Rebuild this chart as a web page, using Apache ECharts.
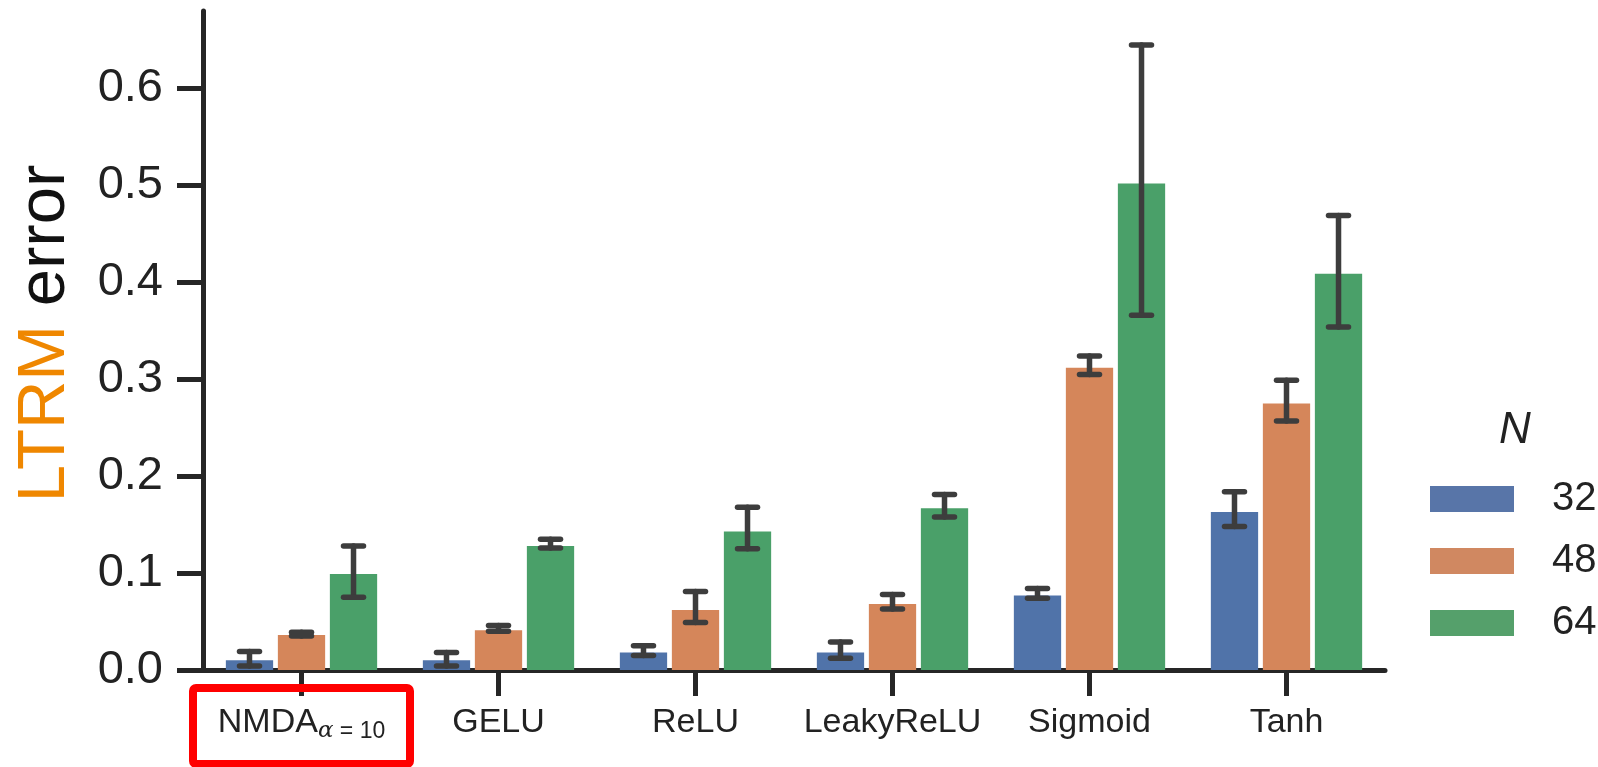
<!DOCTYPE html>
<html>
<head>
<meta charset="utf-8">
<script src="https://cdn.jsdelivr.net/npm/echarts@6/dist/echarts.min.js"></script>
<style>
html,body{margin:0;padding:0;background:#fff;}
#errorChart{width:1598px;height:767px;}
</style>
</head>
<body>
<div id="errorChart"></div>
<script>
// data
var categories = ['NMDA', 'GELU', 'ReLU', 'LeakyReLU', 'Sigmoid', 'Tanh'];
var groupNames = ['32', '48', '64'];
var mean32 = [0.010, 0.010, 0.018, 0.018, 0.077, 0.163];
var low32  = [0.004, 0.004, 0.015, 0.012, 0.074, 0.148];
var high32 = [0.019, 0.018, 0.025, 0.029, 0.084, 0.184];
var mean48 = [0.036, 0.041, 0.062, 0.068, 0.312, 0.275];
var low48  = [0.035, 0.040, 0.049, 0.063, 0.305, 0.257];
var high48 = [0.039, 0.046, 0.081, 0.078, 0.324, 0.299];
var mean64 = [0.099, 0.128, 0.143, 0.167, 0.502, 0.409];
var low64  = [0.075, 0.126, 0.125, 0.158, 0.366, 0.354];
var high64 = [0.128, 0.135, 0.168, 0.181, 0.645, 0.469];
var yTicks = [0, 0.1, 0.2, 0.3, 0.4, 0.5, 0.6];

var barColors = ['#5073a9', '#d5865a', '#4aa069'];
var legendColors = ['#5875a8', '#d08861', '#55a06b'];
var axisColor = '#262626';
var fontName = "'Liberation Sans', Arial, sans-serif";

function errData(lo, hi){
	var out = [];
	for (var i = 0; i < lo.length; i++) {
		out.push([i, lo[i], hi[i]]);
	}
	return out;
}

// error bar with caps, shifted to the bar of the given group
function errRender(groupIdx){
	return function(params, api){
		var c = api.value(0);
		var p1 = api.coord([c, api.value(1)]);
		var p2 = api.coord([c, api.value(2)]);
		var band = api.size([1, 0])[0];
		var x = p1[0] + (groupIdx - 1) * band * 0.24 * 1.1;
		var hw = 10;
		var st = { stroke: '#3d3d3d', lineWidth: 5.5, lineCap: 'round' };
		return {
			type: 'group',
			children: [
				{ type: 'line', shape: { x1: x, y1: p1[1], x2: x, y2: p2[1] }, style: st },
				{ type: 'line', shape: { x1: x - hw, y1: p1[1], x2: x + hw, y2: p1[1] }, style: st },
				{ type: 'line', shape: { x1: x - hw, y1: p2[1], x2: x + hw, y2: p2[1] }, style: st }
			]
		};
	};
}

var errorChart = echarts.init(document.getElementById('errorChart'));
var means = [mean32, mean48, mean64];
var lows = [low32, low48, low64];
var highs = [high32, high48, high64];

var series = [];
for (var g = 0; g < 3; g++) {
	series.push({
		name: groupNames[g],
		type: 'bar',
		barWidth: '24%',
		barGap: '10%',
		itemStyle: { color: barColors[g] },
		data: means[g]
	});
}
for (var g = 0; g < 3; g++) {
	series.push({
		name: 'err' + groupNames[g],
		type: 'custom',
		renderItem: errRender(g),
		encode: { x: 0, y: [1, 2] },
		z: 10,
		data: errData(lows[g], highs[g])
	});
}

var errorChart_option = {
	animation: false,
	textStyle: { fontFamily: fontName },
	grid: { left: 203, right: 213, top: 11, bottom: 97 },
	title: {
		text: 'N',
		left: 1494,
		top: 404,
		textStyle: { fontFamily: fontName, fontSize: 44, fontStyle: 'italic', fontWeight: 'normal', color: '#222' }
	},
	legend: {
		orient: 'vertical',
		left: 1425,
		top: 474,
		itemWidth: 84,
		itemHeight: 26,
		itemGap: 22,
		icon: 'rect',
		textStyle: { fontFamily: fontName, fontSize: 40, color: '#222', lineHeight: 40, padding: [0, 0, 0, 33] },
		data: groupNames.map(function(n, i){
			return { name: n, itemStyle: { color: legendColors[i] } };
		})
	},
	xAxis: {
		type: 'category',
		data: categories,
		axisLine: { lineStyle: { color: axisColor, width: 5 } },
		axisTick: { show: true, alignWithLabel: true, interval: 0, length: 26, lineStyle: { color: axisColor, width: 5 } },
		axisLabel: {
			interval: 0,
			color: '#222',
			fontSize: 34,
			lineHeight: 40,
			margin: 33,
			formatter: function(v){
				if (v === 'NMDA') return '{a|NMDA}{s|α}{t| = 10}';
				return v;
			},
			rich: {
				a: { fontSize: 34, lineHeight: 40, color: '#222', fontFamily: fontName },
				s: { fontSize: 23, lineHeight: 20, verticalAlign: 'bottom', fontStyle: 'italic', color: '#222', fontFamily: "'DejaVu Serif', serif" },
				t: { fontSize: 23, lineHeight: 20, verticalAlign: 'bottom', color: '#222', fontFamily: fontName }
			}
		}
	},
	yAxis: {
		type: 'value',
		min: 0,
		max: 0.68,
		interval: 0.1,
		name: '{o|LTRM }{e|error}',
		nameLocation: 'middle',
		nameRotate: 90,
		nameGap: 124,
		nameTextStyle: {
			padding: [0, 0, 0, 14],
			rich: {
				o: { fontSize: 67, color: '#ef8700', fontFamily: fontName },
				e: { fontSize: 67, color: '#111', fontFamily: fontName }
			}
		},
		splitLine: { show: false },
		axisLine: { show: true, lineStyle: { color: axisColor, width: 5 } },
		axisTick: { show: true, length: 26, customValues: yTicks, lineStyle: { color: axisColor, width: 5 } },
		axisLabel: {
			color: '#222',
			fontSize: 47,
			margin: 40,
			customValues: yTicks,
			formatter: function(v){ return v.toFixed(1); }
		}
	},
	graphic: [
		{
			type: 'rect',
			shape: { x: 193, y: 688, width: 217, height: 76, r: 3 },
			style: { fill: 'none', stroke: '#ff0000', lineWidth: 8 },
			z: 100
		}
	],
	series: series
};
errorChart.setOption(errorChart_option);
</script>
</body>
</html>
